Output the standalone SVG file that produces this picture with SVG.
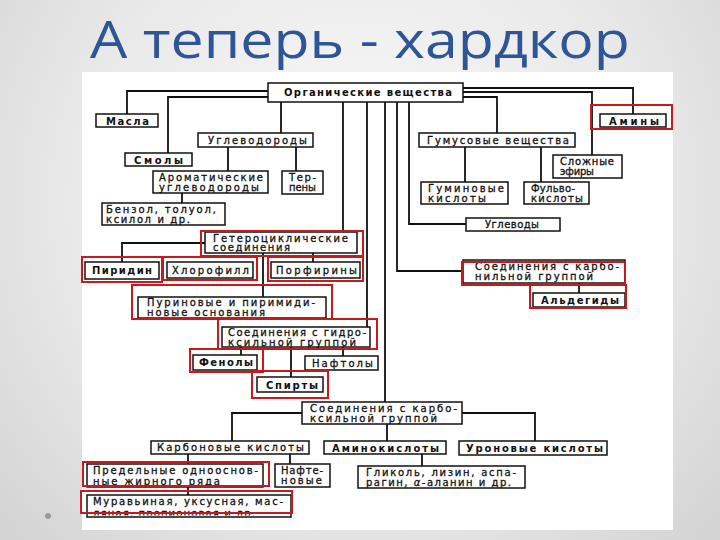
<svg xmlns="http://www.w3.org/2000/svg" width="720" height="540" viewBox="0 0 720 540">
<defs>
<radialGradient id="bg" cx="360" cy="200" r="480" gradientUnits="userSpaceOnUse">
<stop offset="0" stop-color="#fafafa"/>
<stop offset="0.6" stop-color="#e9e9e9"/>
<stop offset="1" stop-color="#d4d4d4"/>
</radialGradient>
<clipPath id="cut"><rect x="80" y="490" width="220" height="25.5"/></clipPath>
</defs>
<style>
.box{fill:#fff;stroke:#111;stroke-width:1.5}
.hl{fill:none;stroke:#c8191e;stroke-width:2}
.ln{fill:none;stroke:#111;stroke-width:1.8}
text{font-family:"DejaVu Sans","Liberation Sans",sans-serif;fill:#111}
.b{font-size:10px;font-weight:bold}
.r{font-size:10px;stroke:#111;stroke-width:0.3}
.title{font-family:"Open Sans","DejaVu Sans",sans-serif;font-size:52px;fill:#2e5596;stroke:none}
</style>
<rect width="720" height="540" fill="url(#bg)"/>
<rect x="82" y="72" width="591" height="458" fill="#fff"/>
<circle cx="48" cy="516" r="3" fill="#9a9a9a"/>
<text class="title" x="90" y="58" textLength="540" lengthAdjust="spacingAndGlyphs">А теперь - хардкор</text>

<g id="connectors">
<path class="ln" d="M268,91 H127 V114 M268,97 H168 V153"/>
<path class="ln" d="M281,102 V133 M228,147 V171 M296,147 V171 M182,193 V203"/>
<path class="ln" d="M343,102 V232 M367,102 V327 M385,102 V402 M397,102 V271 H463 M409,102 V224 H466"/>
<path class="ln" d="M463,88 H633 V114 M463,92 H592 V155 M463,97 H497 V133"/>
<path class="ln" d="M465,147 V182 M541,147 V182"/>
<path class="ln" d="M205,243 H122 V262 M313,253 V262 M263,253 V297"/>
<path class="ln" d="M579,283 V293"/>
<path class="ln" d="M241,347 V355 M291,347 V377 M343,347 V356"/>
<path class="ln" d="M302,413 H232 V441 M462,413 H535 V441 M387,424 V441"/>
<path class="ln" d="M188,454 V464 M290,454 V464 M422,454 V466 M188,487 V495"/>
</g>

<g id="root"><rect class="box" x="268" y="83" width="195" height="19"/><text class="b" x="284" y="96" textLength="168" lengthAdjust="spacing">Органические вещества</text></g>
<g id="masla"><rect class="box" x="96" y="114" width="62" height="13"/><text class="b" x="106" y="124.5" textLength="43" lengthAdjust="spacing">Масла</text></g>
<g id="aminy"><rect class="box" x="600" y="114" width="66" height="13"/><text class="b" x="609" y="124.5" textLength="50" lengthAdjust="spacing">Амины</text><rect class="hl" x="591" y="105" width="81" height="24"/></g>
<g id="uglevodorody"><rect class="box" x="198" y="133" width="115" height="14"/><text class="r" x="208" y="144" textLength="99" lengthAdjust="spacing">Углеводороды</text></g>
<g id="gumus"><rect class="box" x="419" y="133" width="156" height="14"/><text class="r" x="427" y="144" textLength="142" lengthAdjust="spacing">Гумусовые вещества</text></g>
<g id="smoly"><rect class="box" x="125" y="153" width="67" height="13"/><text class="b" x="134" y="163.5" textLength="49" lengthAdjust="spacing">Смолы</text></g>
<g id="efiry"><rect class="box" x="553" y="155" width="69" height="23"/><text class="r" x="560" y="164.5" textLength="54" lengthAdjust="spacing">Сложные</text><text class="r" x="560" y="174.5" textLength="34" lengthAdjust="spacing">эфиры</text></g>
<g id="aromat"><rect class="box" x="153" y="171" width="115" height="22"/><text class="r" x="159" y="180.5" textLength="104" lengthAdjust="spacing">Ароматические</text><text class="r" x="159" y="190.5" textLength="100" lengthAdjust="spacing">углеводороды</text></g>
<g id="terpeny"><rect class="box" x="282" y="171" width="41" height="23"/><text class="r" x="289" y="180.5" textLength="27" lengthAdjust="spacing">Тер-</text><text class="r" x="289" y="190.5" textLength="27" lengthAdjust="spacing">пены</text></g>
<g id="benzol"><rect class="box" x="102" y="203" width="123" height="22"/><text class="r" x="106" y="212.5" textLength="110" lengthAdjust="spacing">Бензол, толуол,</text><text class="r" x="106" y="222.5" textLength="84" lengthAdjust="spacing">ксилол и др.</text></g>
<g id="guminovye"><rect class="box" x="421" y="182" width="87" height="22"/><text class="r" x="428" y="191.5" textLength="76" lengthAdjust="spacing">Гуминовые</text><text class="r" x="428" y="201.5" textLength="58" lengthAdjust="spacing">кислоты</text></g>
<g id="fulvo"><rect class="box" x="524" y="182" width="65" height="22"/><text class="r" x="531" y="191.5" textLength="44" lengthAdjust="spacing">Фульво-</text><text class="r" x="531" y="201.5" textLength="52" lengthAdjust="spacing">кислоты</text></g>
<g id="uglevody"><rect class="box" x="466" y="218" width="94" height="13"/><text class="r" x="485" y="228" textLength="54" lengthAdjust="spacing">Углеводы</text></g>
<g id="hetero"><rect class="box" x="205" y="232" width="152" height="21"/><text class="r" x="213" y="241.5" textLength="135" lengthAdjust="spacing">Гетероциклические</text><text class="r" x="213" y="251" textLength="77" lengthAdjust="spacing">соединения</text><rect class="hl" x="201" y="231" width="162" height="25"/></g>
<g id="piridin"><rect class="box" x="85" y="262" width="74" height="17"/><text class="b" x="92" y="274" textLength="60" lengthAdjust="spacing">Пиридин</text><rect class="hl" x="82" y="257" width="80" height="25"/></g>
<g id="chlorofill"><rect class="box" x="167" y="262" width="86" height="16"/><text class="r" x="172" y="274" textLength="77" lengthAdjust="spacing">Хлорофилл</text><rect class="hl" x="163" y="257" width="94" height="23"/></g>
<g id="porfiriny"><rect class="box" x="271" y="262" width="89" height="16"/><text class="r" x="276" y="274" textLength="81" lengthAdjust="spacing">Порфирины</text><rect class="hl" x="268" y="257" width="95" height="24"/></g>
<g id="karbonil"><rect class="box" x="463" y="260" width="162" height="23"/><text class="r" x="475" y="270" textLength="144" lengthAdjust="spacing">Соединения с карбо-</text><text class="r" x="475" y="280" textLength="118" lengthAdjust="spacing">нильной группой</text><rect class="hl" x="462" y="262" width="163" height="23"/></g>
<g id="aldegidy"><rect class="box" x="533" y="293" width="92" height="14"/><text class="b" x="541" y="304" textLength="78" lengthAdjust="spacing">Альдегиды</text><rect class="hl" x="530" y="285" width="96" height="23"/></g>
<g id="purin"><rect class="box" x="138" y="297" width="188" height="21"/><text class="r" x="147" y="306" textLength="168" lengthAdjust="spacing">Пуриновые и пиримиди-</text><text class="r" x="147" y="316" textLength="118" lengthAdjust="spacing">новые основания</text><rect class="hl" x="132" y="285" width="200" height="34"/></g>
<g id="gidroksil"><rect class="box" x="222" y="327" width="148" height="20"/><text class="r" x="228" y="335.5" textLength="138" lengthAdjust="spacing">Соединения с гидро-</text><text class="r" x="228" y="345.5" textLength="128" lengthAdjust="spacing">ксильной группой</text><rect class="hl" x="218" y="319" width="159" height="30"/></g>
<g id="fenoly"><rect class="box" x="193" y="355" width="64" height="15"/><text class="b" x="199" y="366" textLength="54" lengthAdjust="spacing">Фенолы</text><rect class="hl" x="190" y="349" width="73" height="23"/></g>
<g id="naftoly"><rect class="box" x="305" y="356" width="73" height="14"/><text class="r" x="312" y="367" textLength="61" lengthAdjust="spacing">Нафтолы</text></g>
<g id="spirty"><rect class="box" x="257" y="377" width="66" height="15"/><text class="b" x="266" y="388.5" textLength="52" lengthAdjust="spacing">Спирты</text><rect class="hl" x="252" y="371" width="76" height="27"/></g>
<g id="karboksil"><rect class="box" x="302" y="402" width="160" height="22"/><text class="r" x="310" y="411.5" textLength="147" lengthAdjust="spacing">Соединения с карбо-</text><text class="r" x="310" y="421.5" textLength="127" lengthAdjust="spacing">ксильной группой</text></g>
<g id="karbonovye"><rect class="box" x="151" y="441" width="158" height="13"/><text class="r" x="157" y="451" textLength="147" lengthAdjust="spacing">Карбоновые кислоты</text></g>
<g id="aminokisloty"><rect class="box" x="324" y="441" width="122" height="13"/><text class="b" x="332" y="451.5" textLength="107" lengthAdjust="spacing">Аминокислоты</text></g>
<g id="uronovye"><rect class="box" x="459" y="441" width="148" height="14"/><text class="b" x="466" y="451.5" textLength="137" lengthAdjust="spacing">Уроновые кислоты</text></g>
<g id="predelnye"><rect class="box" x="87" y="464" width="176" height="23"/><text class="r" x="93" y="473.5" textLength="165" lengthAdjust="spacing">Предельные одноосно&#x432;-</text><text class="r" x="93" y="484.5" textLength="127" lengthAdjust="spacing">ные жирного ряда</text><rect class="hl" x="83" y="462" width="186" height="24"/></g>
<g id="naftenovye"><rect class="box" x="275" y="464" width="55" height="23"/><text class="r" x="281" y="474" textLength="42" lengthAdjust="spacing">Нафте-</text><text class="r" x="281" y="484" textLength="41" lengthAdjust="spacing">новые</text></g>
<g id="glikol"><rect class="box" x="358" y="466" width="167" height="22"/><text class="r" x="366" y="475.5" textLength="150" lengthAdjust="spacing">Гликоль, лизин, аспа-</text><text class="r" x="366" y="485.5" textLength="145" lengthAdjust="spacing">рагин, <tspan font-style="italic">α</tspan>-аланин и др.</text></g>
<g id="muravinaya"><rect class="box" x="87" y="495" width="204" height="22"/><text class="r" x="93" y="505" textLength="190" lengthAdjust="spacing">Муравьиная, уксусная, мас-</text><text class="r" x="93" y="516.5" textLength="162" lengthAdjust="spacing" clip-path="url(#cut)">ляная, пропионовая и др.</text><rect class="hl" x="81" y="491" width="211" height="22"/></g>
</svg>
